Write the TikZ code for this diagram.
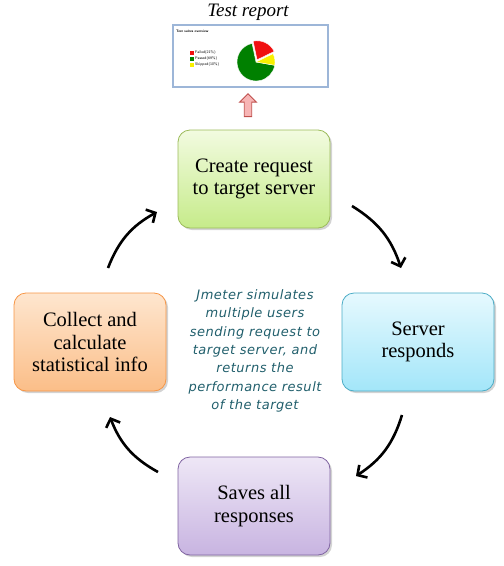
\documentclass[tikz,border=0pt]{standalone}
\usepackage{fontspec}
\setmainfont{Liberation Serif}
\newfontfamily\handfont[LetterSpace=4]{DejaVu Sans}
\usepackage{tikz}
\usetikzlibrary{shapes.arrows,arrows.meta,shadows}

\definecolor{greentop}{HTML}{F2FBE0}
\definecolor{greenbot}{HTML}{C6EB8A}
\definecolor{greenrim}{HTML}{9BBB59}
\definecolor{cyantop}{HTML}{E6F9FE}
\definecolor{cyanbot}{HTML}{A3E6F9}
\definecolor{cyanrim}{HTML}{4BACC6}
\definecolor{orangetop}{HTML}{FEE6CF}
\definecolor{orangebot}{HTML}{FBBE88}
\definecolor{orangerim}{HTML}{F79646}
\definecolor{purpletop}{HTML}{EEE7F6}
\definecolor{purplebot}{HTML}{C8B4E1}
\definecolor{purplerim}{HTML}{8064A2}
\definecolor{notecol}{HTML}{215F6C}
\definecolor{reportrim}{HTML}{9DB6D8}
\definecolor{piered}{HTML}{F01010}
\definecolor{piegreen}{HTML}{008000}
\definecolor{pieyellow}{HTML}{F8F000}
\definecolor{uparrowfill}{HTML}{F7B5B5}
\definecolor{uparrowrim}{HTML}{C0504D}

\tikzset{
  stepbox/.style={rectangle, rounded corners=12pt, minimum width=152pt, minimum height=98pt,
    align=center, font=\fontsize{20.5}{22.5}\selectfont, line width=0.8pt,
    drop shadow={opacity=0.35, shadow xshift=2pt, shadow yshift=-2pt}},
  cyclearr/.style={line width=2.6pt, -{Straight Barb[length=7pt, width=15pt]}}
}
\newcommand{\cyclestep}[5] {\node at (#1) (#2) [stepbox, top color=#3top, bottom color=#3bot, draw=#3rim] {#4\\#5};}
\newcommand{\cyclearrow}[2] {\draw [cyclearr] (#1) to [bend left=20] (#2);}
\newcommand{\legendkey}[3] {\fill [#2] (#1) rectangle ++(4,4); \node at (#1) [anchor=west, xshift=5pt, yshift=-2pt, inner sep=0pt, font=\fontsize{3.8}{4}\selectfont\sffamily] {#3};}

\begin{document}
\begin{tikzpicture}[x=1pt, y=-1pt]
\useasboundingbox (0,0) rectangle (504,566);

% report on top
\node at (248,12) (title) [font=\fontsize{19}{22}\selectfont\itshape] {Test report};
\node at (250.5,56) (report) [rectangle, draw=reportrim, line width=1.2pt, minimum width=155pt, minimum height=62pt, fill=white] {};
\node at (176,31) (suites) [anchor=west, inner sep=0pt, font=\fontsize{3.5}{4}\selectfont\sffamily\bfseries] {Test suites overview};
\legendkey {190,51}{piered}{Failed(21\%)}
\legendkey {190,57}{piegreen}{Passed(69\%)}
\legendkey {190,63}{pieyellow}{Skipped(10\%)}
\coordinate (piec) at (256,62);
\begin{scope}[shift={(piec)}, x=1pt, y=1pt]
  \fill [piegreen, draw=white, line width=0.4pt] (0,0) -- (102:19) arc [start angle=102, end angle=350, radius=19] -- cycle;
  \fill [pieyellow, draw=white, line width=0.4pt] (0,0) -- (-10:19) arc [start angle=-10, end angle=26, radius=19] -- cycle;
  \fill [piered, draw=white, line width=0.4pt, shift={(64:2.5)}] (0,0) -- (26:19) arc [start angle=26, end angle=102, radius=19] -- cycle;
\end{scope}
\node at (248,107) (up) [single arrow, rotate=90, fill=uparrowfill, draw=uparrowrim, line width=0.9pt,
  minimum height=23pt, minimum width=17pt, single arrow head extend=2.5pt, inner sep=1.5pt] {};

% the cycle
\cyclestep {254,179}{create}{green}{Create request}{to target server}
\cyclestep {418,342}{server}{cyan}{Server}{responds}
\cyclestep {254,506}{saves}{purple}{Saves all}{responses}
\cyclestep {90,342}{collect}{orange}{Collect and}{calculate\\statistical info}

\coordinate (a1s) at (352,206);
\coordinate (a1e) at (401,268);
\coordinate (a2s) at (402,415);
\coordinate (a2e) at (356,476);
\coordinate (a3s) at (158,472);
\coordinate (a3e) at (110,417);
\coordinate (a4s) at (108,268);
\coordinate (a4e) at (157,212);
\cyclearrow {a1s}{a1e}
\cyclearrow {a2s}{a2e}
\cyclearrow {a3s}{a3e}
\cyclearrow {a4s}{a4e}

\node at (255,351) (note) [align=center, text=notecol, font=\fontsize{13}{18.3}\selectfont\handfont\itshape]
  {Jmeter simulates\\multiple users\\sending request to\\target server, and\\returns the\\performance result\\of the target};

\end{tikzpicture}
\end{document}
